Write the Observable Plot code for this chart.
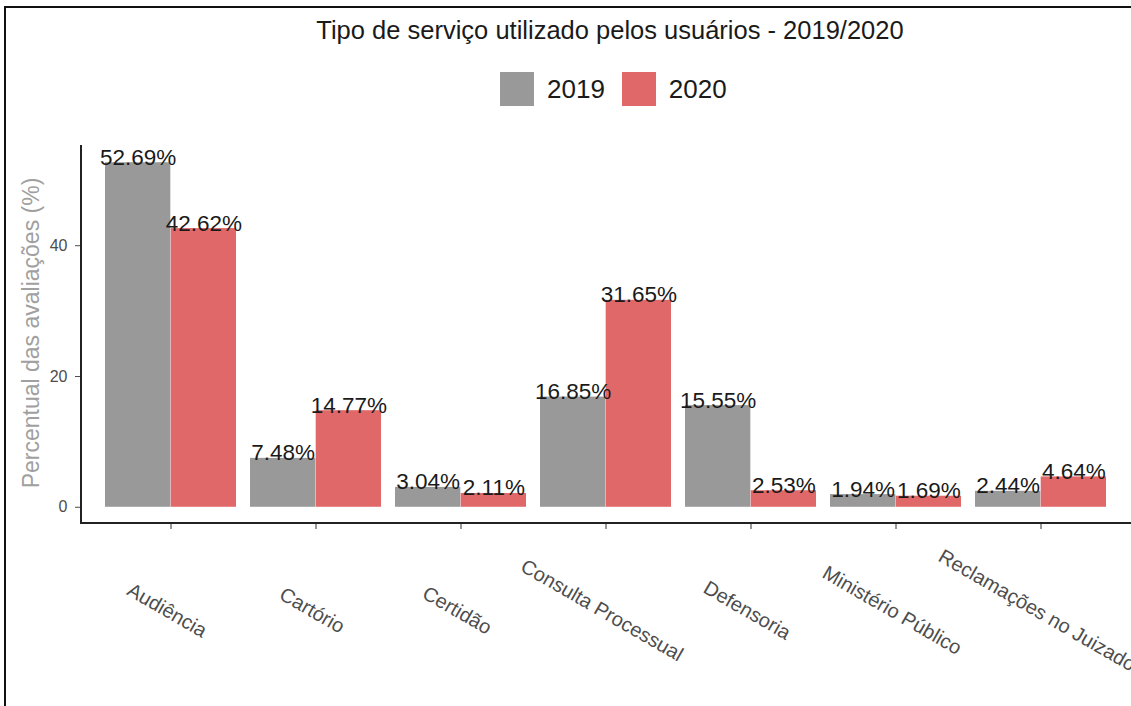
<!DOCTYPE html>
<html><head><meta charset="utf-8">
<script src="https://cdn.jsdelivr.net/npm/d3@7"></script>
<script src="https://cdn.jsdelivr.net/npm/@observablehq/plot@0.6"></script>
<style>
html,body{margin:0;padding:0;background:#fff;overflow:hidden;}
#wrap{position:relative;width:1131px;height:706px;overflow:hidden;font-family:"Liberation Sans",Arial,Helvetica,sans-serif;}
#chart{position:absolute;left:0;top:0;}
#border{position:absolute;left:4px;top:6px;width:1200px;height:800px;border-left:2px solid #111;border-top:2px solid #111;pointer-events:none;}
#title{position:absolute;left:0;width:1220px;top:16px;text-align:center;font-size:25.5px;color:#1a1a1a;white-space:nowrap;}
#legend{position:absolute;left:500px;top:72px;display:flex;align-items:center;}
.item{display:flex;align-items:center;margin-right:17px;}
.sw{width:34px;height:34px;margin-right:13px;}
.lt{font-size:26px;color:#1a1a1a;line-height:34px;}
#ylab{position:absolute;left:31px;top:333px;transform:translate(-50%,-50%) rotate(-90deg);font-size:23px;color:#a0a0a0;white-space:nowrap;}
</style>
</head><body>
<div id="wrap">
  <div id="chart"></div>
  <div id="title"></div>
  <div id="legend"></div>
  <div id="ylab"></div>
  <div id="border"></div>
</div>
<script>
const titleText = "Tipo de serviço utilizado pelos usuários - 2019/2020";
const yLabel = "Percentual das avaliações (%)";
const categories = ["Audiência","Cartório","Certidão","Consulta Processual","Defensoria","Ministério Público","Reclamações no Juizado"];
const years = ["2019","2020"];
const values2019 = [52.69, 7.48, 3.04, 16.85, 15.55, 1.94, 2.44];
const values2020 = [42.62, 14.77, 2.11, 31.65, 2.53, 1.69, 4.64];
const yTicks = [0, 20, 40];
const colors = ["#999999", "#e06868"];

const data = [];
categories.forEach((c, i) => {
  data.push({cat: c, year: years[0], value: values2019[i]});
  data.push({cat: c, year: years[1], value: values2020[i]});
});
const d19 = data.filter(d => d.year === years[0]);
const d20 = data.filter(d => d.year === years[1]);

document.getElementById("title").textContent = titleText;
document.getElementById("ylab").textContent = yLabel;
const leg = document.getElementById("legend");
years.forEach((y, i) => {
  const it = document.createElement("div"); it.className = "item";
  const sw = document.createElement("div"); sw.className = "sw"; sw.style.background = colors[i];
  const t = document.createElement("div"); t.className = "lt"; t.textContent = y;
  it.appendChild(sw); it.appendChild(t); leg.appendChild(it);
});

const W = 1131, H = 706, mL = 80, mR = 0, mT = 145, mB = 182;
const pIn = 0.1, pOut = 0.15;
const step = (W - mL - mR) / (categories.length - pIn + 2 * pOut);
const half = (1 - pIn) * step / 2;
const vmax = d3.max(data, d => d.value);
const ext = 0.05 * vmax;

const fmt = d => d.value.toFixed(2) + "%";
const plot = Plot.plot({
  width: W, height: H,
  marginLeft: mL, marginRight: mR, marginTop: mT, marginBottom: mB,
  style: {fontFamily: "Liberation Sans, Arial, Helvetica, sans-serif", background: "transparent"},
  x: {domain: categories, paddingInner: pIn, paddingOuter: pOut, label: null},
  y: {domain: [-ext, vmax + ext], label: null},
  color: {domain: years, range: colors},
  marks: [
    Plot.barY(d19, {x: "cat", y: "value", fill: "year", insetRight: half}),
    Plot.barY(d20, {x: "cat", y: "value", fill: "year", insetLeft: half}),
    Plot.text(d19, {x: "cat", y: "value", text: fmt, dx: -half / 2, dy: 2, lineAnchor: "bottom", fontSize: 22.5, fill: "#1a1a1a"}),
    Plot.text(d20, {x: "cat", y: "value", text: fmt, dx: half / 2, dy: 2, lineAnchor: "bottom", fontSize: 22.5, fill: "#1a1a1a"}),
    Plot.axisY({ticks: yTicks, tickSize: 5, tickPadding: 8, fontSize: 16, color: "#4d4d4d", label: null}),
    Plot.axisX({tickSize: 5, tickFormat: () => "", color: "#333", label: null}),
    Plot.text(categories, {x: d => d, frameAnchor: "bottom", dx: -4, dy: 86, rotate: 30, textAnchor: "middle", lineAnchor: "middle", fontSize: 20, fill: "#4d4d4d"})
  ]
});
document.getElementById("chart").appendChild(plot);
const svg = d3.select(plot);
svg.append("line").attr("x1", mL + 1).attr("x2", mL + 1).attr("y1", mT).attr("y2", H - mB).attr("stroke", "#222").attr("stroke-width", 2);
svg.append("line").attr("x1", mL).attr("x2", W).attr("y1", H - mB - 1).attr("y2", H - mB - 1).attr("stroke", "#222").attr("stroke-width", 2);
</script>
</body></html>
